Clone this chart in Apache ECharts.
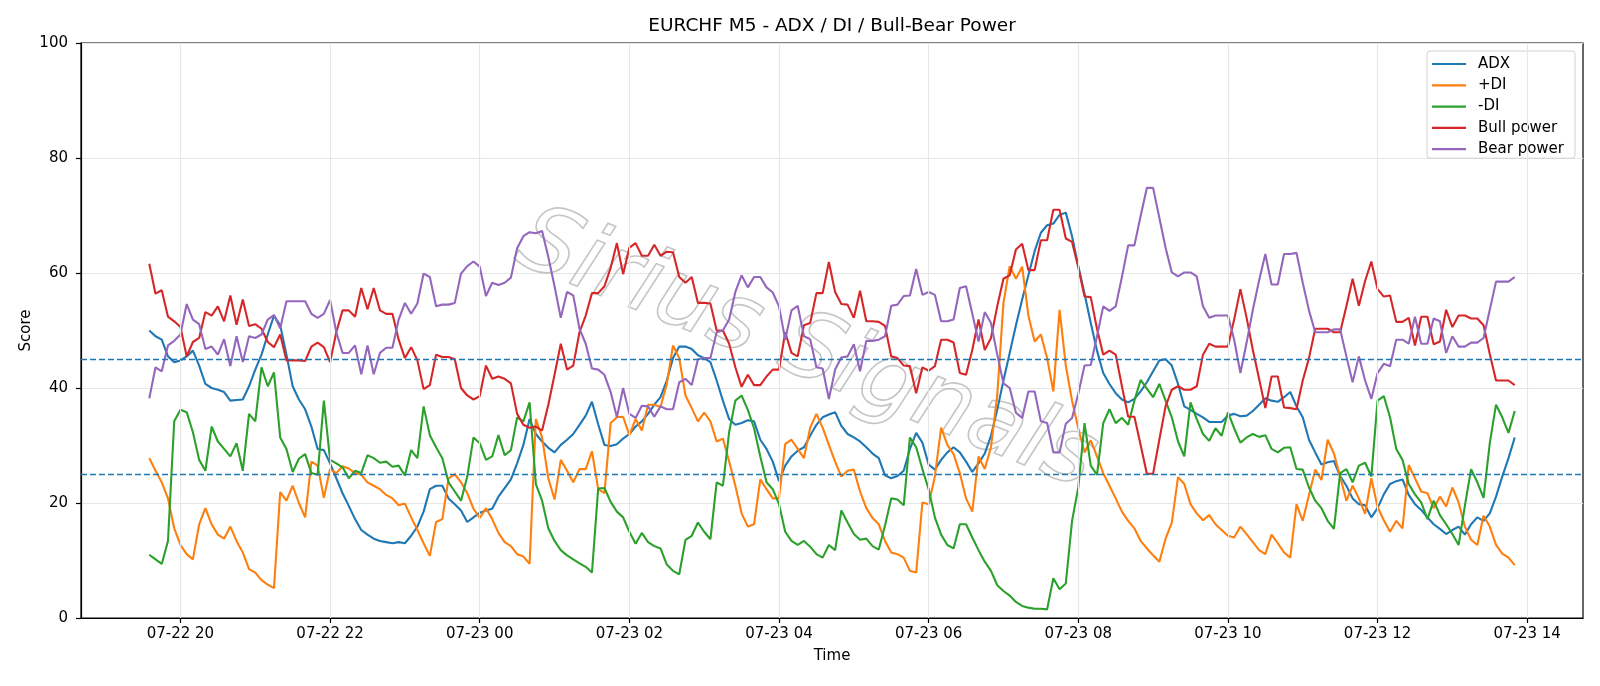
<!DOCTYPE html>
<html>
<head>
<meta charset="utf-8">
<title>EURCHF M5 - ADX / DI / Bull-Bear Power</title>
<script src="https://cdn.jsdelivr.net/npm/echarts@6/dist/echarts.min.js"></script>
<style>
  html, body { margin: 0; padding: 0; background: #fff; }
  #chart { width: 1600px; height: 686px; }
</style>
</head>
<body>
<div id="chart"></div>
<script>
// M5 bars, 07-22 19:35 -> 07-23 13:50 ; x is hours since 07-22 00:00
const START_HOUR = 19 + 35 / 60
const STEP_HOUR = 5 / 60

const adx = [
  50, 49, 48.4, 45.5, 44.5, 44.8, 45.5, 46.5, 43.9, 40.7,
  40, 39.7, 39.3, 37.8, 37.9, 38, 40.3, 43.2, 45.8, 49.3,
  52.6, 50.9, 45.8, 40.3, 38, 36.3, 33.3, 29.4, 29.2, 26.9,
  24.3, 21.7, 19.5, 17.2, 15.3, 14.5, 13.8, 13.4, 13.2, 13,
  13.2, 13, 14.3, 15.9, 18.5, 22.4, 23, 23, 20.8, 19.8,
  18.7, 16.7, 17.5, 18.3, 18.7, 19, 21.1, 22.6, 24.1, 26.9,
  30.1, 34.6, 32, 30.7, 29.6, 28.8, 30.1, 31, 32, 33.6,
  35.2, 37.6, 33.7, 30.1, 29.9, 30.2, 31.2, 32, 33.3, 34.2,
  35.5, 37.1, 38.4, 41.3, 45.2, 47.2, 47.2, 46.8, 45.7, 45.2,
  44.5, 41.3, 37.8, 34.6, 33.6, 33.9, 34.4, 34.2, 31, 29.4,
  27.2, 23.8, 26.5, 28.1, 29.1, 29.7, 31.7, 33.6, 34.9, 35.4,
  35.8, 33.4, 32, 31.4, 30.7, 29.7, 28.6, 27.8, 24.8, 24.3,
  24.7, 25.6, 29.4, 32.2, 30.5, 26.7, 25.8, 27.5, 28.8, 29.7,
  28.8, 27.2, 25.4, 26.9, 28.6, 31.7, 36.2, 41.3, 46.1, 50.9,
  55.4, 59.6, 63.8, 67, 68.3, 68.6, 70.1, 70.5, 66.4, 61.2,
  56.4, 51.3, 46.5, 42.6, 40.7, 39.1, 38, 37.5, 38.1, 39.4,
  41, 42.9, 44.8, 45, 43.9, 40.7, 36.8, 36.2, 35.5, 34.9,
  34.1, 34.1, 34.1, 35.2, 35.5, 35.1, 35.2, 36, 37.1, 38.2,
  37.8, 37.6, 38.4, 39.3, 36.8, 34.9, 31, 28.8, 26.7, 27.1,
  27.3, 24.7, 23, 20.8, 19.8, 19.6, 17.5, 19.1, 21.5, 23.3,
  23.8, 24.1, 21.4, 19.8, 18.8, 17.5, 16.3, 15.5, 14.6, 15.3,
  15.9, 14.5, 16.3, 17.5, 16.9, 18.2, 21.1, 24.6, 27.8, 31.4
]

const plusDI = [
  27.8, 25.6, 23.6, 20.8, 15.6, 12.7, 11.1, 10.2, 16.3, 19.1,
  16.3, 14.5, 13.8, 15.9, 13.4, 11.4, 8.5, 7.9, 6.6, 5.8,
  5.2, 21.9, 20.4, 23, 20, 17.5, 27.2, 26.5, 20.9, 25.9,
  25.2, 26.4, 26, 25.2, 24.9, 23.6, 23, 22.4, 21.4, 20.8,
  19.6, 19.9, 17.5, 15.3, 13, 10.8, 16.7, 17.2, 24.3, 25,
  23.6, 21.7, 19, 17.4, 19.1, 17.2, 14.8, 13.2, 12.5, 11.1,
  10.7, 9.4, 34.6, 31.4, 24.3, 20.6, 27.5, 25.6, 23.6, 25.9,
  25.9, 29, 22.4, 21.7, 33.9, 34.9, 35, 31.8, 34.6, 32.6,
  37.1, 37.1, 36.7, 40.7, 47.4, 45.2, 38.7, 36.5, 34.2, 35.7,
  34.2, 30.7, 31.2, 27.2, 23, 18.2, 15.9, 16.3, 24.1, 22.4,
  20.8, 20.8, 30.3, 31, 29.4, 27.8, 33.1, 35.5, 33.1, 30.1,
  27.2, 24.6, 25.6, 25.8, 22, 19.1, 17.4, 16.3, 13.4, 11.4,
  11.1, 10.5, 8.2, 7.9, 20.1, 19.8, 24.6, 33.1, 30.1, 28.5,
  25.2, 20.8, 18.5, 28.1, 25.9, 29.7, 38.7, 54.8, 61.2, 59,
  61.1, 52.6, 48.1, 49.3, 45.2, 39.4, 53.6, 43.9, 37.8, 33,
  28.8, 30.9, 28.1, 25.2, 23, 20.8, 18.5, 16.9, 15.6, 13.4,
  12.1, 10.9, 9.8, 13.8, 16.6, 24.5, 23.3, 19.8, 18.2, 17,
  17.9, 16.3, 15.3, 14.3, 14, 15.9, 14.6, 13.2, 11.8, 11.1,
  14.5, 13, 11.4, 10.5, 19.8, 16.9, 21.4, 25.8, 24, 31,
  28.6, 24.6, 20.4, 23, 20.8, 18.1, 24.3, 19.3, 17, 15,
  16.9, 15.6, 26.6, 24.3, 22, 21.7, 19.1, 21.1, 19.4, 22.7,
  20.1, 15.9, 13.6, 12.7, 17.8, 15.9, 12.7, 11.2, 10.5, 9.2
]

const minusDI = [
  11, 10.2, 9.4, 13.4, 34.2, 36.2, 35.8, 32.3, 27.5, 25.6,
  33.3, 30.7, 29.4, 28.1, 30.4, 25.6, 35.5, 34.2, 43.6, 40.3,
  42.7, 31.4, 29.4, 25.4, 27.7, 28.5, 25.2, 24.9, 37.8, 27.5,
  26.9, 26.2, 24.3, 25.6, 25.2, 28.3, 27.8, 27, 27.2, 26.3,
  26.5, 24.8, 29.2, 27.8, 36.8, 31.8, 29.7, 27.8, 23.6, 22,
  20.4, 24.6, 31.4, 30.4, 27.5, 28.1, 31.8, 28.3, 29.2, 34.9,
  34.2, 37.5, 23.3, 20.4, 15.6, 13.4, 11.8, 10.9, 10.2, 9.5,
  8.9, 7.9, 22.5, 22.6, 20.2, 18.5, 17.5, 15, 12.9, 14.8,
  13.2, 12.5, 12.1, 9.3, 8.2, 7.6, 13.6, 14.3, 16.6, 15,
  13.7, 23.6, 23, 32.3, 37.8, 38.7, 36.2, 33, 28.1, 23.6,
  22.4, 19.8, 15, 13.4, 12.7, 13.4, 12.4, 11.1, 10.5, 12.7,
  11.8, 18.7, 16.6, 14.6, 13.6, 13.8, 12.5, 11.9, 16.1, 20.8,
  20.6, 19.6, 31.4, 29.7, 25.9, 22.4, 17.5, 14.5, 12.7, 12.1,
  16.3, 16.3, 14, 11.8, 9.8, 8.2, 5.7, 4.7, 3.9, 2.8,
  2.1, 1.8, 1.6, 1.6, 1.5, 6.9, 5, 6, 16.9, 22.7,
  33.9, 26.5, 24.9, 33.9, 36.3, 33.9, 34.8, 33.6, 37.8, 41.4,
  39.9, 38.4, 40.7, 37.8, 34.9, 30.7, 28.1, 37.5, 34.6, 32,
  30.8, 33, 31.7, 35.8, 33, 30.5, 31.4, 32, 31.5, 31.8,
  29.4, 28.8, 29.6, 29.7, 25.9, 25.8, 22.7, 20.4, 19.1, 16.9,
  15.5, 25.2, 25.9, 23.6, 26.5, 27, 24.6, 37.8, 38.6, 34.9,
  29.4, 27.5, 23.3, 21.5, 20.1, 17.2, 20.4, 17.9, 16.3, 14.6,
  12.7, 19.5, 25.9, 23.6, 20.9, 30.4, 37.1, 34.9, 32.2, 36
]

const bullPower = [
  61.6, 56.4, 57, 52.4, 51.6, 50.6, 45.5, 48, 48.7, 53.2,
  52.6, 54.2, 51.6, 56.1, 51, 55.4, 50.8, 51.1, 50.3, 48,
  47.1, 49.3, 44.8, 44.8, 44.8, 44.7, 47.2, 47.9, 47.1, 44.5,
  49.7, 53.5, 53.5, 52.4, 57.4, 53.7, 57.4, 53.5, 52.9, 52.9,
  48.4, 45.2, 47.1, 44.8, 39.8, 40.5, 45.8, 45.4, 45.4, 45,
  40, 38.7, 38, 38.6, 43.9, 41.6, 42, 41.6, 40.8, 35.5,
  33.6, 33.1, 33.3, 32.6, 37.1, 42.3, 47.7, 43.2, 43.9, 49.7,
  52.6, 56.5, 56.5, 57.7, 60.9, 65.2, 59.8, 64.4, 65.2, 63,
  63, 64.9, 63, 63.7, 63.6, 59.3, 58.3, 59.3, 54.8, 54.8,
  54.7, 50, 50, 47.7, 43.6, 40.2, 42.3, 40.5, 40.5, 42,
  43.2, 43.2, 49.7, 46.1, 45.5, 50.9, 51.3, 56.5, 56.5, 61.9,
  56.7, 54.6, 54.5, 52.2, 56.9, 51.6, 51.6, 51.5, 50.8, 45.5,
  45.2, 43.9, 43.8, 39.1, 43.6, 43, 43.8, 48.4, 48.4, 47.9,
  42.6, 42.3, 46.6, 51.9, 46.6, 48.7, 54.2, 59, 59.6, 64.1,
  65.1, 60.5, 60.5, 65.7, 65.7, 71, 71, 66, 65.4, 61,
  55.9, 55.8, 50.3, 45.8, 46.5, 45.8, 40.3, 35, 35, 30.1,
  25.1, 25.1, 31, 36.8, 39.7, 40.3, 39.7, 39.7, 40.3, 45.8,
  47.7, 47.2, 47.2, 47.2, 51.9, 57.2, 52.2, 46.6, 41.6, 36.5,
  42, 42, 36.6, 36.5, 36.3, 41.3, 45.2, 50.3, 50.3, 50.3,
  49.7, 49.7, 54.2, 59, 54.3, 58.6, 62, 57.2, 55.9, 56.1,
  51.5, 51.5, 52.2, 47.4, 52.4, 52.4, 47.6, 48.1, 53.6, 50.6,
  52.6, 52.6, 52.1, 52.1, 50.9, 45.9, 41.3, 41.3, 41.3, 40.5
]

const bearPower = [
  38.2, 43.6, 42.9, 47.4, 48.2, 49.3, 54.6, 51.9, 51.1, 46.8,
  47.2, 45.8, 48.5, 43.8, 49, 44.5, 49, 48.7, 49.3, 51.9,
  52.7, 50.4, 55.1, 55.1, 55.1, 55.1, 52.9, 52.2, 52.9, 55.3,
  49.7, 46.1, 46.1, 47.4, 42.4, 47.4, 42.4, 46.1, 47, 47,
  51.9, 54.8, 52.9, 54.7, 59.9, 59.3, 54.2, 54.5, 54.5, 54.8,
  59.9, 61.2, 62, 61.1, 56, 58.3, 57.9, 58.3, 59.2, 64.3,
  66.4, 67.1, 66.9, 67.3, 62.8, 57.7, 52.2, 56.7, 56.1, 50.3,
  47.7, 43.4, 43.2, 42.3, 39.3, 34.9, 40, 35.5, 34.8, 36.9,
  36.8, 35, 36.8, 36.3, 36.3, 41, 41.6, 40.5, 45, 45.2,
  45.2, 49.7, 50, 51.9, 56.7, 59.6, 57.5, 59.3, 59.3, 57.5,
  56.6, 54.2, 48.4, 53.5, 54.3, 49, 48.5, 43.6, 43.4, 38.1,
  43.2, 45.3, 45.5, 47.6, 42.9, 48.2, 48.2, 48.4, 49, 54.3,
  54.5, 56, 56.1, 60.7, 56.2, 56.7, 56.2, 51.6, 51.6, 51.9,
  57.4, 57.7, 52.9, 48.1, 53.2, 51.3, 45.8, 40.8, 40, 35.7,
  34.8, 39.4, 39.4, 34.2, 33.9, 28.8, 28.8, 33.8, 34.8, 39,
  43.9, 44, 49, 54.2, 53.4, 54.2, 59.3, 64.8, 64.8, 69.9,
  74.8, 74.8, 69.6, 64.4, 60.1, 59.4, 60.1, 60.1, 59.4, 54.2,
  52.2, 52.6, 52.6, 52.6, 48.4, 42.6, 47.9, 53.6, 58.7, 63.3,
  58, 58, 63.3, 63.3, 63.5, 58.3, 53.5, 49.7, 49.7, 49.7,
  50.2, 50.2, 45.5, 41, 45.5, 41.3, 38.1, 42.6, 44.2, 43.8,
  48.4, 48.4, 47.7, 52.4, 47.7, 47.7, 52.1, 51.6, 46.1, 49,
  47.2, 47.2, 47.9, 47.9, 48.7, 53.6, 58.5, 58.5, 58.5, 59.3
]

const xTicks = [20, 22, 24, 26, 28, 30, 32, 34, 36, 38]
const levels = [25, 45]

const times = adx.map((_, i) => START_HOUR + i * STEP_HOUR)
const span = times[times.length - 1] - times[0]
const xMin = times[0] - 0.05 * span
const xMax = times[times.length - 1] + 0.05 * span

const pad2 = n => String(n).padStart(2, '0')
const fmtTick = h => (h < 24 ? '07-22 ' : '07-23 ') + pad2(Math.round(h) % 24)

const FONT = 'DejaVu Sans'
const plotL = 81, plotR = 1583, plotT = 43, plotB = 618

const lineSeries = (name, values, color) => ({
  name,
  type: 'line',
  data: values.map((v, i) => [times[i], v]),
  showSymbol: false,
  symbol: 'none',
  smooth: false,
  z: 3,
  lineStyle: { width: 2.1, color },
  itemStyle: { color },
})

const chart = echarts.init(document.getElementById('chart'), null, { renderer: 'canvas' })

chart.setOption({
  animation: false,
  backgroundColor: '#ffffff',
  textStyle: { fontFamily: FONT },
  grid: {
    left: plotL, right: 1600 - plotR, top: plotT, bottom: 686 - plotB,
    show: true, borderColor: '#000', borderWidth: 1.2, backgroundColor: 'transparent',
  },
  legend: {
    data: ['ADX', '+DI', '-DI', 'Bull power', 'Bear power'],
    orient: 'vertical',
    left: 1427, top: 51,
    icon: 'rect',
    itemWidth: 34, itemHeight: 2.2,
    itemGap: 5.3,
    padding: [5, 11, 1, 5],
    backgroundColor: 'rgba(255,255,255,0.8)',
    borderColor: '#d0d0d0', borderWidth: 1, borderRadius: 3,
    textStyle: { fontSize: 15, color: '#000', fontFamily: FONT, lineHeight: 16, padding: [0, 0, 0, 7] },
  },
  xAxis: {
    type: 'value',
    min: xMin, max: xMax,
    axisLine: { lineStyle: { color: '#000', width: 1.2 } },
    axisTick: { show: true, length: 5, lineStyle: { color: '#000', width: 1.2 }, customValues: xTicks },
    axisLabel: { customValues: xTicks, formatter: fmtTick, color: '#000', fontSize: 15, margin: 9, fontFamily: FONT },
    splitLine: { show: false },
  },
  yAxis: {
    type: 'value',
    min: 0, max: 100, interval: 20,
    axisLine: { show: true, lineStyle: { color: '#000', width: 1.2 } },
    axisTick: { show: true, length: 5, lineStyle: { color: '#000', width: 1.2 } },
    axisLabel: { color: '#000', fontSize: 15, margin: 13, fontFamily: FONT },
    splitLine: { show: true, lineStyle: { color: '#e6e6e6', width: 1.1 } },
  },
  graphic: [
    {
      type: 'text', x: (plotL + plotR) / 2, y: 26, z: 10,
      style: { text: 'EURCHF M5 - ADX / DI / Bull-Bear Power', font: '18.5px "DejaVu Sans"', fill: '#000', textAlign: 'center', textVerticalAlign: 'middle' },
    },
    {
      type: 'text', x: (plotL + plotR) / 2, y: 656, z: 10,
      style: { text: 'Time', font: '15px "DejaVu Sans"', fill: '#000', textAlign: 'center', textVerticalAlign: 'middle' },
    },
    {
      type: 'text', x: 26, y: (plotT + plotB) / 2, rotation: Math.PI / 2, z: 10,
      style: { text: 'Score', font: '15px "DejaVu Sans"', fill: '#000', textAlign: 'center', textVerticalAlign: 'middle' },
    },
    // faint watermark
    {
      type: 'text', x: 806, y: 352, rotation: -0.38, z: 1, silent: true,
      style: {
        text: 'Sirius Signals', font: 'italic 92px "DejaVu Sans"',
        fill: 'rgba(255,255,255,0)', stroke: 'rgba(150,150,150,0.55)', lineWidth: 1.6,
        textAlign: 'center', textVerticalAlign: 'middle',
      },
    },
  ],
  series: [
    {
      // vertical grid lines at the time ticks
      name: 'xgrid', type: 'line', data: [], z: 1, silent: true,
      markLine: {
        silent: true, symbol: 'none', label: { show: false },
        lineStyle: { color: '#e6e6e6', width: 1.1, type: 'solid' },
        data: xTicks.map(v => ({ xAxis: v })),
      },
    },
    lineSeries('ADX', adx, '#1f77b4'),
    lineSeries('+DI', plusDI, '#ff7f0e'),
    lineSeries('-DI', minusDI, '#2ca02c'),
    lineSeries('Bull power', bullPower, '#d62728'),
    lineSeries('Bear power', bearPower, '#9467bd'),
    {
      name: 'levels', type: 'line', data: [], z: 4, silent: true,
      markLine: {
        silent: true, symbol: 'none', label: { show: false },
        lineStyle: { color: '#1f77b4', width: 1.4, type: [6, 3] },
        data: levels.map(v => ({ yAxis: v })),
      },
    },
  ],
})
</script>
</body>
</html>
